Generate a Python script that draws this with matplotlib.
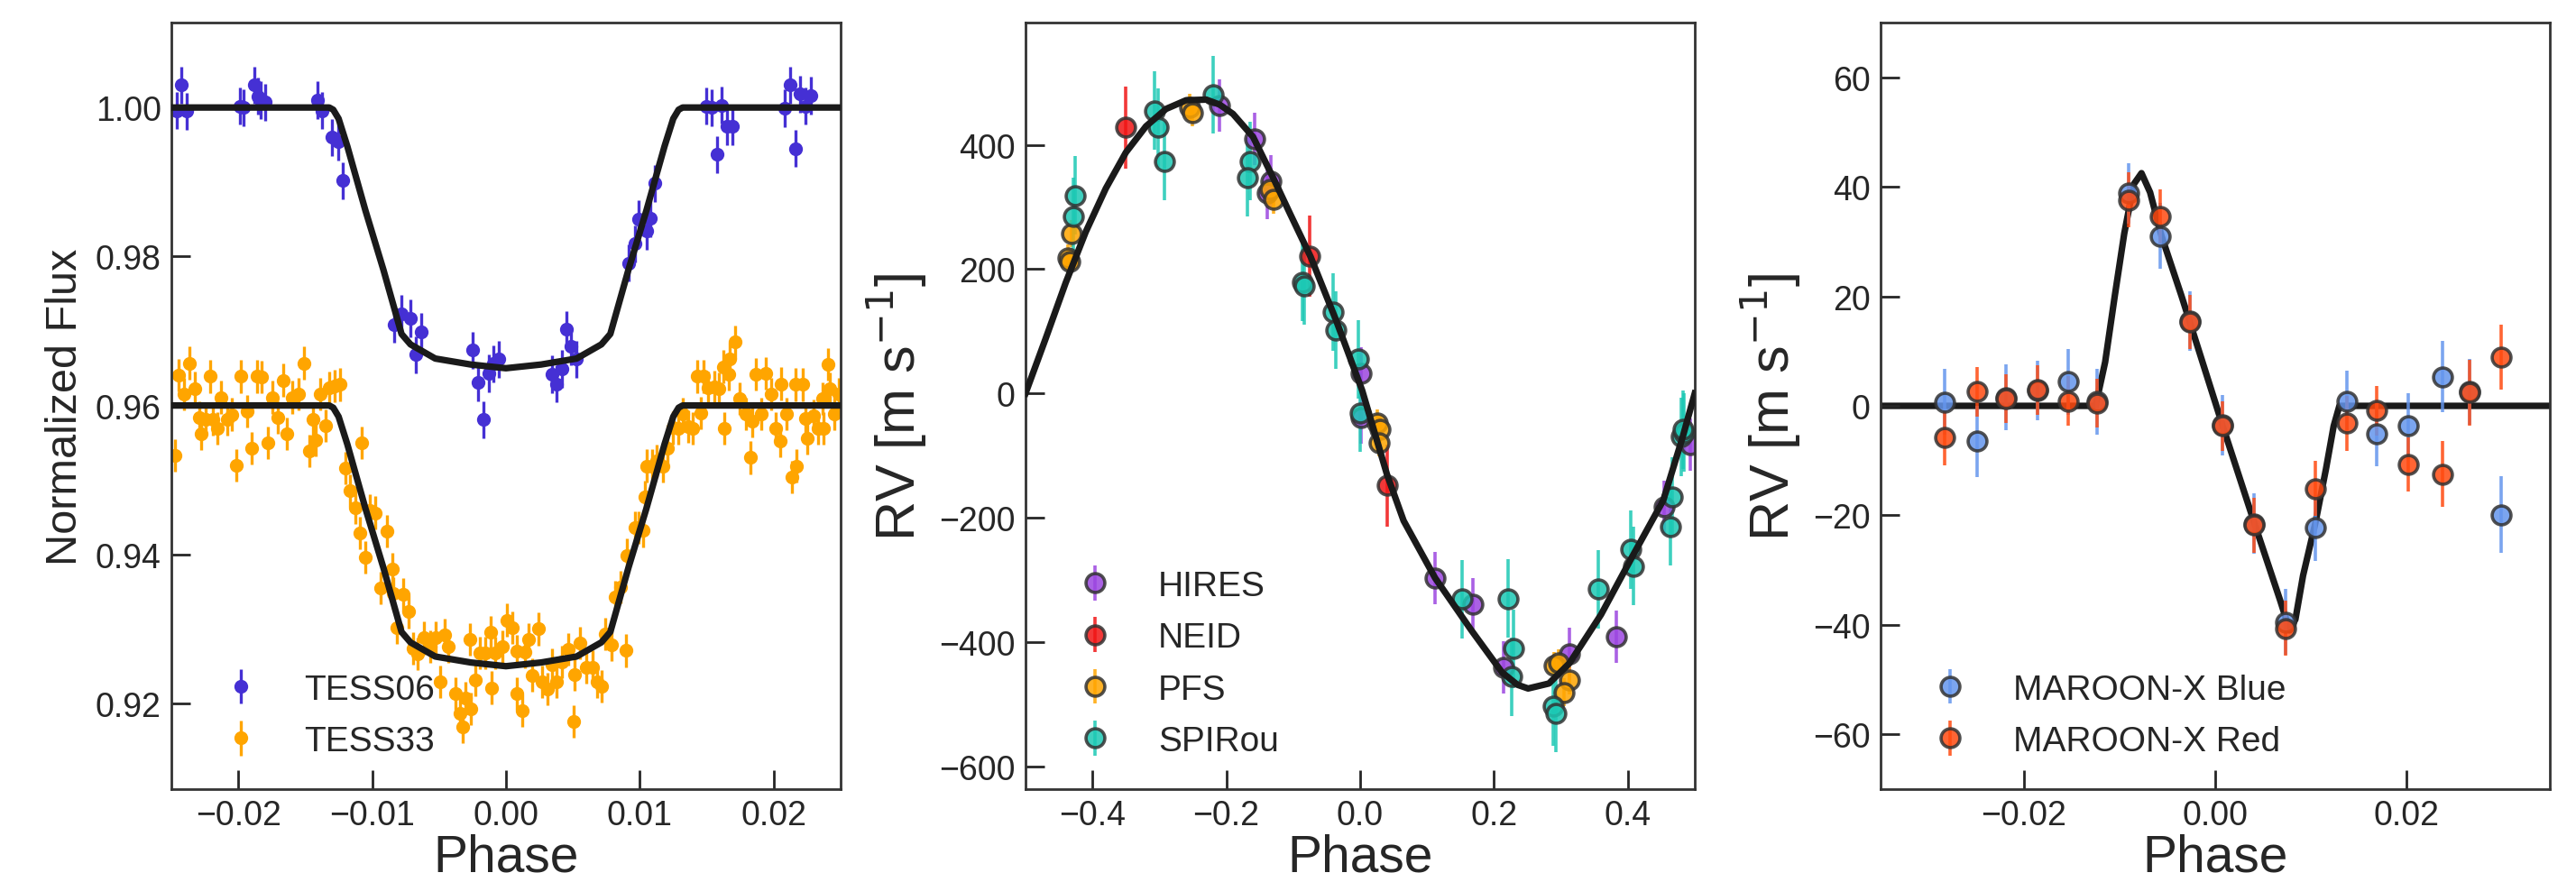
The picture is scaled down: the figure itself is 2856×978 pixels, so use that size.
import numpy as np
import matplotlib
matplotlib.use("Agg")
import matplotlib.pyplot as plt

plt.rcParams['font.family'] = ['Liberation Sans', 'DejaVu Sans']
plt.rcParams['text.color'] = '#262626'
plt.rcParams['axes.labelcolor'] = '#262626'
plt.rcParams['xtick.color'] = '#262626'
plt.rcParams['ytick.color'] = '#262626'

# ---------------- transit (left panel) ----------------
tess06_phase = [-0.02461, -0.02423, -0.02385, -0.01989, -0.01958, -0.01877, -0.01854, -0.01832,
                -0.01800, -0.01411, -0.01373, -0.01299, -0.01254, -0.01220, -0.00838, -0.00782,
                -0.00715, -0.00676, -0.00636, -0.00247, -0.00209, -0.00171, -0.00130, -0.00097,
                -0.00056, 0.00342, 0.00375, 0.00416, 0.00454, 0.00488, 0.00528, 0.00915,
                0.00964, 0.00993, 0.01050, 0.01077, 0.01113, 0.01499, 0.01540, 0.01578,
                0.01612, 0.01652, 0.01691, 0.02084, 0.02124, 0.02162, 0.02196, 0.02237, 0.02275]
tess06_flux = [0.9996, 1.0030, 0.9995, 1.0002, 1.0000, 1.0030, 1.0015, 1.0010,
               1.0007, 1.0010, 0.9996, 0.9960, 0.9954, 0.9902, 0.9709, 0.9723,
               0.9717, 0.9668, 0.9699, 0.9674, 0.9631, 0.9581, 0.9643, 0.9656,
               0.9662, 0.9642, 0.9629, 0.9649, 0.9702, 0.9679, 0.9662, 0.9791,
               0.9817, 0.9850, 0.9834, 0.9851, 0.9898, 1.0002, 1.0000, 0.9937,
               1.0003, 0.9975, 0.9975, 0.9999, 1.0030, 0.9945, 1.0018, 1.0002, 1.0016]
tess06_err = 0.0025

tess33_phase = [-0.02475, -0.02448, -0.02407, -0.02367, -0.02326, -0.02289, -0.02274, -0.02242,
                -0.02209, -0.02190, -0.02159, -0.02131, -0.02085, -0.02050, -0.02016, -0.01980,
                -0.01935, -0.01898, -0.01856, -0.01823, -0.01780, -0.01746, -0.01706, -0.01664,
                -0.01636, -0.01595, -0.01548, -0.01512, -0.01471, -0.01443, -0.01421, -0.01389,
                -0.01347, -0.01320, -0.01278, -0.01237, -0.01196, -0.01163, -0.01127, -0.01091,
                -0.01080, -0.01050, -0.01017, -0.00976, -0.00933, -0.00888, -0.00850, -0.00843,
                -0.00816, -0.00771, -0.00730, -0.00692, -0.00659, -0.00614, -0.00564, -0.00524,
                -0.00490, -0.00456, -0.00434, -0.00378, -0.00344, -0.00322, -0.00303, -0.00265,
                -0.00270, -0.00231, -0.00198, -0.00153, -0.00115, -0.00110, -0.00079, -0.00029,
                0.00004, 0.00049, 0.00079, 0.00083, 0.00123, 0.00139, 0.00169, 0.00196,
                0.00241, 0.00268, 0.00308, 0.00342, 0.00375, 0.00416, 0.00465, 0.00506,
                0.00515, 0.00555, 0.00600, 0.00645, 0.00679, 0.00713, 0.00740, 0.00791,
                0.00814, 0.00859, 0.00897, 0.00904, 0.00964, 0.00993, 0.01027, 0.01038,
                0.01050, 0.01095, 0.01128, 0.01173, 0.01207, 0.01247, 0.01286, 0.01320,
                0.01364, 0.01398, 0.01432, 0.01455, 0.01477, 0.01511, 0.01556, 0.01590,
                0.01623, 0.01634, 0.01668, 0.01675, 0.01713, 0.01747, 0.01792, 0.01830,
                0.01837, 0.01870, 0.01908, 0.01944, 0.01983, 0.02016, 0.02050, 0.02057,
                0.02095, 0.02140, 0.02173, 0.02163, 0.02218, 0.02237, 0.02252, 0.02297,
                0.02331, 0.02364, 0.02375, 0.02409, 0.02421, 0.02455, 0.02488]
tess33_flux = [0.9533, 0.9641, 0.9615, 0.9657, 0.9623, 0.9584, 0.9562, 0.9581,
               0.9639, 0.9581, 0.9569, 0.9611, 0.9581, 0.9588, 0.9520, 0.9639,
               0.9592, 0.9543, 0.9639, 0.9638, 0.9550, 0.9611, 0.9584, 0.9634,
               0.9562, 0.9611, 0.9615, 0.9657, 0.9539, 0.9581, 0.9554, 0.9615,
               0.9573, 0.9624, 0.9626, 0.9628, 0.9516, 0.9486, 0.9463, 0.9429,
               0.9550, 0.9396, 0.9459, 0.9456, 0.9355, 0.9431, 0.9380, 0.9348,
               0.9302, 0.9346, 0.9323, 0.9274, 0.9267, 0.9288, 0.9276, 0.9288,
               0.9229, 0.9292, 0.9276, 0.9213, 0.9187, 0.9169, 0.9207, 0.9193,
               0.9286, 0.9232, 0.9268, 0.9268, 0.9296, 0.9221, 0.9268, 0.9276,
               0.9312, 0.9302, 0.9213, 0.9270, 0.9190, 0.9269, 0.9286, 0.9238,
               0.9300, 0.9229, 0.9219, 0.9252, 0.9229, 0.9256, 0.9273, 0.9176,
               0.9239, 0.9281, 0.9249, 0.9249, 0.9229, 0.9223, 0.9293, 0.9279,
               0.9343, 0.9356, 0.9271, 0.9399, 0.9436, 0.9436, 0.9432, 0.9477,
               0.9519, 0.9519, 0.9526, 0.9519, 0.9543, 0.9570, 0.9569, 0.9589,
               0.9572, 0.9569, 0.9639, 0.9590, 0.9639, 0.9624, 0.9625, 0.9622,
               0.9652, 0.9569, 0.9642, 0.9662, 0.9685, 0.9609, 0.9589, 0.9530,
               0.9579, 0.9642, 0.9589, 0.9643, 0.9615, 0.9569, 0.9552, 0.9629,
               0.9589, 0.9504, 0.9519, 0.9628, 0.9628, 0.9582, 0.9556, 0.9586,
               0.9569, 0.9609, 0.9569, 0.9655, 0.9622, 0.9589, 0.9615]
tess33_err = 0.0022
tess33_offset = 0.04

model_lc_phase = [-0.025, -0.0132, -0.0129, -0.0125, -0.01185, -0.0105, -0.00915, -0.0078,
                  -0.00713, -0.00528, -0.00263, 0.0, 0.00263, 0.00528, 0.00713, 0.0078,
                  0.00915, 0.0105, 0.01185, 0.0125, 0.0129, 0.0132, 0.025]
model_lc_flux = [1.0, 1.0, 0.9997, 0.9985, 0.9948, 0.9862, 0.9782, 0.9696,
                 0.9682, 0.9663, 0.9655, 0.9650, 0.9655, 0.9663, 0.9682, 0.9696,
                 0.9782, 0.9862, 0.9948, 0.9985, 0.9997, 1.0, 1.0]

# ---------------- RV orbit (middle panel) ----------------
hires_phase = [-0.210, -0.157, -0.134, -0.139, 0.001, 0.002, 0.112, 0.169, 0.215, 0.313, 0.383, 0.454, 0.493]
hires_rv = [464, 410, 341, 323, 32, -39, -297, -339, -441, -419, -392, -183, -83]
hires_err = 42

neid_phase = [-0.351, -0.076, 0.040]
neid_rv = [428, 221, -148]
neid_err = 66

pfs_phase = [-0.437, -0.434, -0.431, -0.255, -0.251, -0.135, -0.130, 0.025, 0.030, 0.028,
             0.290, 0.296, 0.313, 0.304]
pfs_rv = [218, 212, 257, 460, 452, 329, 312, -48, -57, -79, -438, -434, -462, -481]
pfs_err = 22

spirou_phase = [-0.4256, -0.4287, -0.307, -0.302, -0.293, -0.219, -0.165, -0.169, -0.086, -0.083,
                -0.040, -0.036, -0.003, 0.000, 0.152, 0.221, 0.229, 0.226, 0.288, 0.292,
                0.356, 0.405, 0.409, 0.466, 0.463, 0.480, 0.484, 0.482]
spirou_rv = [319, 285, 455, 428, 374, 481, 374, 348, 179, 173,
             131, 102, 55, -31, -331, -330, -411, -456, -504, -515,
             -315, -251, -278, -166, -214, -70, -63, -58]
spirou_err = 63

model_rv_phase = [-0.500, -0.470, -0.440, -0.410, -0.380, -0.350, -0.320, -0.290, -0.260, -0.230,
                  -0.210, -0.190, -0.160, -0.129, -0.105, -0.074, -0.036, 0.003, 0.040, 0.065,
                  0.112, 0.166, 0.212, 0.235, 0.251, 0.282, 0.313, 0.360, 0.406, 0.453,
                  0.482, 0.500]
model_rv = [0, 88, 178, 260, 330, 388, 430, 458, 472, 473,
            465, 450, 413, 345, 290, 220, 118, 5, -130, -205,
            -297, -381, -449, -469, -475, -467, -434, -356, -264, -172,
            -70, 0]

# ---------------- RM effect (right panel) ----------------
mx_phase = [-0.0283, -0.0249, -0.0219, -0.0186, -0.0154, -0.0123, -0.0090, -0.0057, -0.0026, 0.0008,
            0.0041, 0.0074, 0.0105, 0.0138, 0.0169, 0.0202, 0.0238, 0.0266, 0.0299]
mx_blue_rv = [0.7, -6.5, 1.5, 2.8, 4.4, 0.8, 38.8, 31.0, 15.5, -3.5,
              -21.5, -39.5, -22.3, 0.9, -5.1, -3.7, 5.3, 2.6, -19.9]
mx_blue_err = [6.0, 6.5, 6.0, 5.5, 6.0, 6.0, 5.5, 6.0, 5.5, 5.5,
               5.5, 6.0, 6.0, 5.5, 6.0, 6.0, 6.5, 6.0, 7.0]
mx_red_rv = [-5.8, 2.6, 1.3, 2.9, 0.9, 0.5, 37.6, 34.6, 15.3, -3.7,
             -21.8, -40.6, -15.1, -3.2, -0.9, -10.7, -12.5, 2.4, 8.9]
mx_red_err = [5.0, 4.5, 4.5, 4.5, 4.5, 4.5, 5.0, 5.0, 5.0, 4.5,
              5.0, 5.0, 5.0, 5.0, 4.5, 5.0, 6.0, 6.0, 6.0]

model_rm_phase = [-0.035, -0.0125, -0.0115, -0.0105, -0.0095, -0.0085, -0.0077, -0.0068, -0.0056,
                  -0.0035, -0.0015, 0.0008, 0.0042, 0.0068, 0.0078, 0.0084, 0.0092, 0.0105,
                  0.0116, 0.0124, 0.0130, 0.035]
model_rm = [0, 0, 8, 20, 31.5, 40.5, 42.5, 39, 31,
            20, 9, -3.7, -21.9, -35.5, -41, -39, -31, -21.3,
            -11.5, -3.7, 0, 0]

# ---------------- figure ----------------
fig = plt.figure(figsize=(14.28, 4.895), dpi=200)
ax1 = fig.add_axes([0.0665, 0.1052, 0.2598, 0.8682])
ax2 = fig.add_axes([0.3981, 0.1052, 0.2598, 0.8682])
ax3 = fig.add_axes([0.7300, 0.1052, 0.2598, 0.8682])

line_col = '#1a1a1a'
edge_col = '#333333'

# left
ax1.errorbar(tess06_phase, tess06_flux, yerr=tess06_err, fmt='o', ms=4.5, color='#4530D4',
             elinewidth=1.2, capsize=0, label='TESS06', zorder=2)
ax1.errorbar(tess33_phase, np.array(tess33_flux), yerr=tess33_err, fmt='o', ms=4.5, color='orange',
             elinewidth=1.2, capsize=0, label='TESS33', zorder=2)
ax1.plot(model_lc_phase, model_lc_flux, color=line_col, lw=2.6, zorder=3)
ax1.plot(model_lc_phase, np.array(model_lc_flux) - tess33_offset, color=line_col, lw=2.6, zorder=3)
ax1.set_xlim(-0.025, 0.025)
ax1.set_ylim(0.9085, 1.0114)
ax1.set_xticks([-0.02, -0.01, 0.0, 0.01, 0.02])
ax1.set_yticks([0.92, 0.94, 0.96, 0.98, 1.00])
ax1.set_ylabel('Normalized Flux', fontsize=17.5)

# middle
rv_sets = [('HIRES', hires_phase, hires_rv, hires_err, '#9B45E0'),
           ('NEID', neid_phase, neid_rv, neid_err, '#F01515'),
           ('PFS', pfs_phase, pfs_rv, pfs_err, '#FFA500'),
           ('SPIRou', spirou_phase, spirou_rv, spirou_err, '#1CC8B4')]
for name, ph, rv, err, col in rv_sets:
    ax2.errorbar(ph, rv, yerr=err, fmt='o', ms=7.5, mfc=col, mec=edge_col, mew=1.3,
                 ecolor=col, elinewidth=1.3, capsize=0, alpha=0.85, label=name, zorder=2)
ax2.plot(model_rv_phase, model_rv, color=line_col, lw=2.6, zorder=3)
ax2.set_xlim(-0.5, 0.5)
ax2.set_ylim(-637, 597)
ax2.set_xticks([-0.4, -0.2, 0.0, 0.2, 0.4])
ax2.set_yticks([-600, -400, -200, 0, 200, 400])
ax2.set_ylabel('RV [m s$^{-1}$]', fontsize=22)

# right
ax3.plot(model_rm_phase, model_rm, color=line_col, lw=2.6, zorder=1)
ax3.errorbar(mx_phase, mx_blue_rv, yerr=mx_blue_err, fmt='o', ms=7.5, mfc='#6495ED', mec=edge_col,
             mew=1.3, ecolor='#6495ED', elinewidth=1.3, capsize=0, alpha=0.85,
             label='MAROON-X Blue', zorder=2)
ax3.errorbar(mx_phase, mx_red_rv, yerr=mx_red_err, fmt='o', ms=7.5, mfc='#FF4A10', mec=edge_col,
             mew=1.3, ecolor='#FF4A10', elinewidth=1.3, capsize=0, alpha=0.85,
             label='MAROON-X Red', zorder=2)
ax3.set_xlim(-0.035, 0.035)
ax3.set_ylim(-70, 70)
ax3.set_xticks([-0.02, 0.0, 0.02])
ax3.set_yticks([-60, -40, -20, 0, 20, 40, 60])
ax3.set_ylabel('RV [m s$^{-1}$]', fontsize=22)

for ax in (ax1, ax2, ax3):
    ax.set_xlabel('Phase', fontsize=20.5, labelpad=0.5)
    ax.tick_params(direction='in', length=7.5, width=1.0, labelsize=13.5, pad=4)
    for sp in ax.spines.values():
        sp.set_color('#333333')
        sp.set_linewidth(1.0)
    ax.legend(loc='lower left', bbox_to_anchor=(0.004, 0.0), frameon=False, fontsize=14,
              labelspacing=0.55, handletextpad=0.8)

fig.savefig('out.png', dpi=200)
